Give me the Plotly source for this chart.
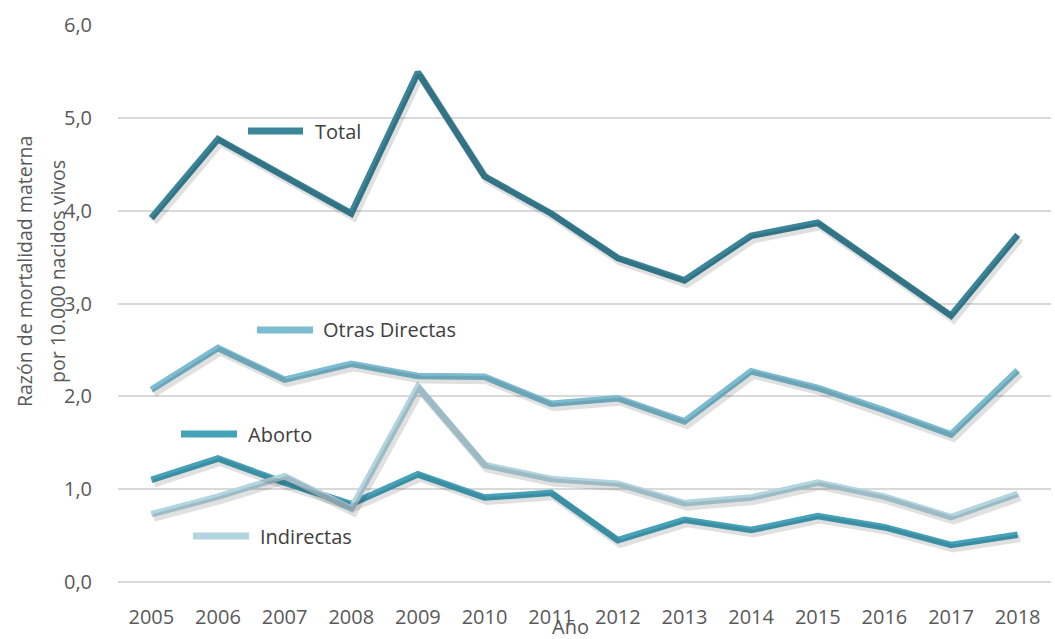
import plotly.graph_objects as go

years = ["2005", "2006", "2007", "2008", "2009", "2010", "2011", "2012", "2013", "2014", "2015", "2016", "2017", "2018"]
total = [3.92, 4.77, 4.37, 3.97, 5.49, 4.37, 3.97, 3.49, 3.25, 3.73, 3.87, 3.36, 2.87, 3.74]
otras_directas = [2.07, 2.52, 2.18, 2.35, 2.22, 2.21, 1.92, 1.98, 1.73, 2.27, 2.09, 1.85, 1.59, 2.28]
aborto = [1.10, 1.33, 1.07, 0.84, 1.16, 0.91, 0.96, 0.45, 0.67, 0.56, 0.71, 0.59, 0.40, 0.51]
indirectas = [0.73, 0.92, 1.14, 0.79, 2.10, 1.26, 1.11, 1.06, 0.85, 0.91, 1.07, 0.92, 0.70, 0.95]

series_names = ["Total", "Otras Directas", "Aborto", "Indirectas"]
series_values = [total, otras_directas, aborto, indirectas]
colors = ["#3A8599", "#7BBCD0", "#45A2B9", "#B3D5E0"]
y_ticks = [0, 1, 2, 3, 4, 5, 6]
y_title_lines = ["Razón de mortalidad materna", "por 10.000 nacidos vivos"]
x_title = "Año"

W, H = 1055, 639
L, R, T, B = 118, 4, 25, 57
pw, ph = W - L - R, H - T - B

def px(x):
    return (x - L) / pw

def py(y):
    return (H - B - y) / ph

fig = go.Figure()

# soft shadows on a slightly shifted overlay axis
dx_cat = 2.5 / (pw / 14)
dy_val = 3.5 / (ph / 6)
for name, vals in zip(series_names, series_values):
    fig.add_trace(go.Scatter(x=list(range(len(years))), y=vals, mode="lines",
                             line=dict(color="rgba(0,0,0,0.12)", width=8),
                             xaxis="x2", yaxis="y2", hoverinfo="skip", showlegend=False))

for name, vals, c in zip(series_names, series_values, colors):
    fig.add_trace(go.Scatter(x=years, y=vals, mode="lines", name=name,
                             line=dict(color=c, width=6.5), showlegend=False))

# inline legend labels
legend_pos = [  # x0, x1, y, text x (pixels)
    (248, 303, 131, 313),
    (257, 313, 330, 321),
    (181, 237, 434, 246),
    (193, 249, 536, 258),
]
shapes = []
annotations = []
for (x0, x1, y, tx), name, c in zip(legend_pos, series_names, colors):
    shapes.append(dict(type="line", xref="paper", yref="paper", x0=px(x0), x1=px(x1),
                       y0=py(y), y1=py(y), line=dict(color=c, width=7)))
    annotations.append(dict(xref="paper", yref="paper", x=px(tx), y=py(y), text=name,
                            showarrow=False, xanchor="left", yanchor="middle",
                            font=dict(size=20, color="#404040")))

annotations.append(dict(xref="paper", yref="paper", x=px(570), y=py(626), text=x_title,
                        showarrow=False, xanchor="center", yanchor="middle",
                        font=dict(size=20, color="#595959")))
for line_text, lx in zip(y_title_lines, [24, 57]):
    annotations.append(dict(xref="paper", yref="paper", x=px(lx), y=py(272),
                            text=line_text, textangle=-90, showarrow=False,
                            xanchor="center", yanchor="middle",
                            font=dict(size=19.5, color="#595959")))

fig.update_layout(
    width=W, height=H,
    margin=dict(l=L, r=R, t=T, b=B),
    paper_bgcolor="white", plot_bgcolor="white",
    separators=",.",
    font=dict(family="Open Sans, sans-serif", color="#595959"),
    xaxis=dict(type="category", range=[-0.5, 13.5], showgrid=False, showline=False,
               ticks="outside", ticklen=17, tickcolor="rgba(0,0,0,0)",
               tickfont=dict(size=20, color="#595959"), zeroline=False),
    yaxis=dict(range=[0, 6], tickvals=y_ticks, tickformat=".1f", showgrid=True,
               gridcolor="#D9D9D9", gridwidth=1.5, zeroline=True, zerolinecolor="#D9D9D9",
               zerolinewidth=1.5, ticks="outside", ticklen=21, tickcolor="rgba(0,0,0,0)",
               tickfont=dict(size=20, color="#595959")),
    xaxis2=dict(overlaying="x", range=[-0.5 - dx_cat, 13.5 - dx_cat], visible=False),
    yaxis2=dict(overlaying="y", range=[0 + dy_val, 6 + dy_val], visible=False),
    shapes=shapes,
    annotations=annotations,
    showlegend=False,
)

fig.write_html("out.html", config={"displayModeBar": False},
               post_script="document.body.style.margin='0';document.body.style.overflow='hidden';")
